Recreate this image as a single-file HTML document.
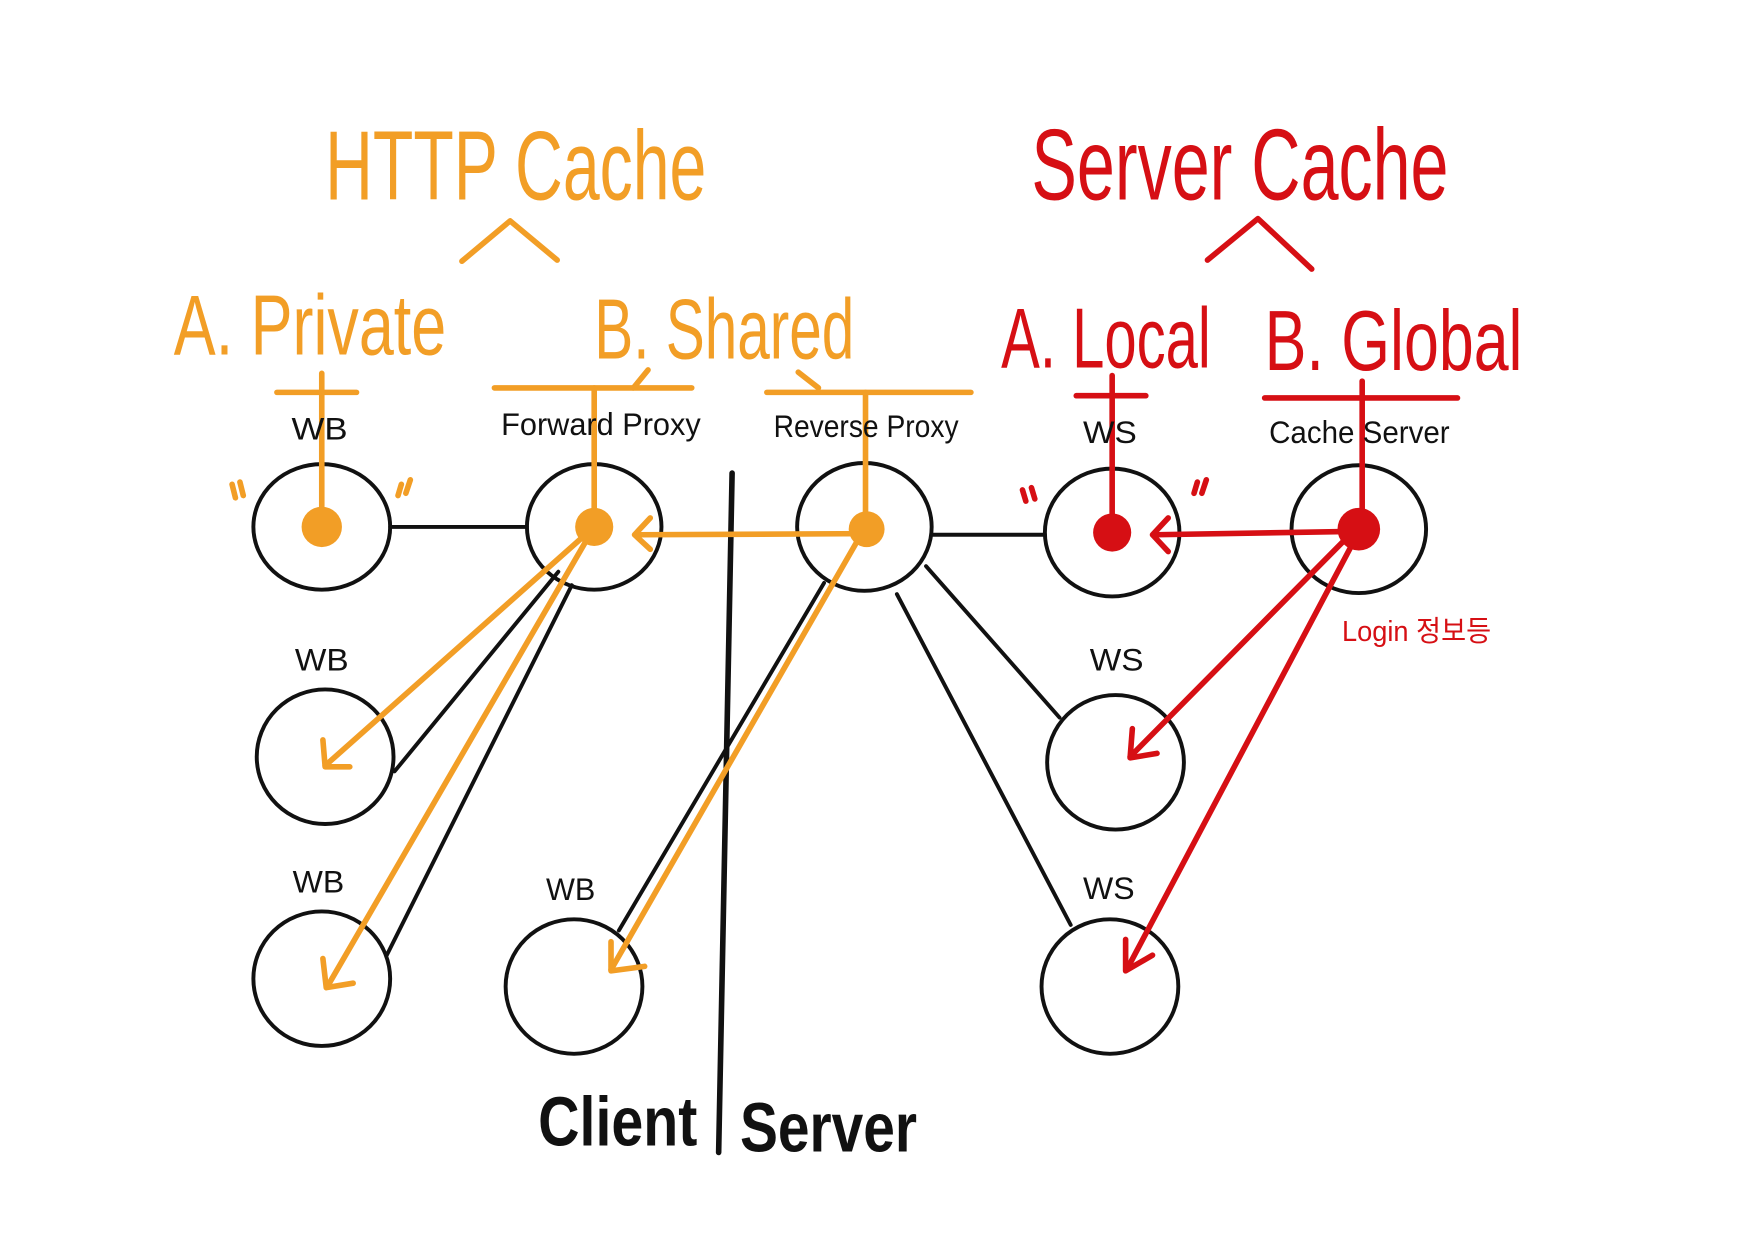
<!DOCTYPE html>
<html><head><meta charset="utf-8"><style>
html,body{margin:0;padding:0;background:#fff;width:1740px;height:1250px;overflow:hidden}
svg{display:block}
text{font-family:"Liberation Sans","Noto Sans CJK KR",sans-serif}
</style></head><body>
<svg width="1740" height="1250" viewBox="0 0 1552 1115" preserveAspectRatio="none" xmlns="http://www.w3.org/2000/svg">
<rect width="1552" height="1115" fill="#fff"/>
<g fill="none" stroke="#111" stroke-width="3.5" stroke-linecap="round">
<ellipse cx="287" cy="470" rx="61" ry="56"/>
<ellipse cx="530" cy="470" rx="60" ry="56"/>
<ellipse cx="771" cy="470" rx="60" ry="57"/>
<ellipse cx="992" cy="475" rx="60" ry="57"/>
<ellipse cx="1212" cy="472" rx="60" ry="57"/>
<ellipse cx="290" cy="675" rx="61" ry="60"/>
<ellipse cx="995" cy="680" rx="61" ry="60"/>
<ellipse cx="287" cy="873" rx="61" ry="60"/>
<ellipse cx="512" cy="880" rx="61" ry="60"/>
<ellipse cx="990" cy="880" rx="61" ry="60"/>
<line x1="348" y1="470" x2="470" y2="470"/>
<line x1="832" y1="477" x2="932" y2="477"/>
<line x1="498" y1="510" x2="352" y2="688"/>
<line x1="510" y1="522" x2="345" y2="852"/>
<line x1="735" y1="520" x2="552" y2="830"/>
<line x1="826" y1="505" x2="945" y2="640"/>
<line x1="800" y1="530" x2="955" y2="825"/>
<line x1="653" y1="422" x2="641" y2="1028" stroke-width="5"/>
</g>
<g fill="none" stroke="#f29e26" stroke-width="5" stroke-linecap="round" stroke-linejoin="round">
<polyline points="412,233 455,197 497,232"/>
<line x1="247" y1="350" x2="318" y2="350"/>
<line x1="287" y1="333" x2="287" y2="470"/>
<line x1="441" y1="346" x2="617" y2="346"/>
<polyline points="565,346 578,330"/>
<line x1="684" y1="350" x2="866" y2="350"/>
<polyline points="712,332 730,346"/>
<line x1="530" y1="346" x2="530" y2="470"/>
<line x1="772" y1="350" x2="772" y2="472"/>
<line x1="772" y1="476" x2="568" y2="477"/>
<polyline points="580,462 566,477 580,490"/>
<line x1="530" y1="470" x2="290" y2="683"/>
<polyline points="288,660 290,684 312,684"/>
<line x1="530" y1="470" x2="292" y2="880"/>
<polyline points="288,855 291,881 315,877"/>
<line x1="765" y1="482" x2="545" y2="865"/>
<polyline points="545,840 545,866 575,862"/>
<path d="M207 432 l3 12 M214 430 l3 12 M358 432 l-3 10 M366 428 l-4 12"/>
</g>
<g fill="#f29e26"><circle cx="287" cy="470" r="18"/><circle cx="530" cy="470" r="17"/><circle cx="773" cy="472" r="16"/></g>
<g fill="none" stroke="#d60f14" stroke-width="5" stroke-linecap="round" stroke-linejoin="round">
<polyline points="1077,232 1122,195 1170,240"/>
<line x1="960" y1="353" x2="1022" y2="353"/>
<line x1="992" y1="335" x2="992" y2="475"/>
<line x1="1128" y1="355" x2="1300" y2="355"/>
<line x1="1215" y1="340" x2="1215" y2="470"/>
<line x1="1205" y1="474" x2="1030" y2="477"/>
<polyline points="1042,462 1028,477 1042,492"/>
<line x1="1205" y1="476" x2="1008" y2="675"/>
<polyline points="1010,650 1008,676 1032,672"/>
<line x1="1208" y1="482" x2="1005" y2="865"/>
<polyline points="1004,838 1004,866 1028,852"/>
<path d="M912 437 l3 10 M920 435 l3 10 M1068 430 l-3 10 M1076 428 l-4 12"/>
</g>
<g fill="#d60f14"><circle cx="992" cy="475" r="17"/><circle cx="1212" cy="472" r="19"/></g>
<g fill="#f29e26">
<text x="290" y="178" font-size="88" textLength="340" lengthAdjust="spacingAndGlyphs">HTTP Cache</text>
<text x="155" y="316" font-size="76" textLength="243" lengthAdjust="spacingAndGlyphs">A. Private</text>
<text x="530" y="320" font-size="76" textLength="232" lengthAdjust="spacingAndGlyphs">B. Shared</text>
</g>
<g fill="#d60f14">
<text x="920" y="178" font-size="90" textLength="372" lengthAdjust="spacingAndGlyphs">Server Cache</text>
<text x="893" y="328" font-size="76" textLength="187" lengthAdjust="spacingAndGlyphs">A. Local</text>
<text x="1128" y="330" font-size="76" textLength="230" lengthAdjust="spacingAndGlyphs">B. Global</text>
<text x="1197" y="572" font-size="26" textLength="133" lengthAdjust="spacingAndGlyphs">Login 정보등</text>
</g>
<g fill="#111" font-size="28">
<text x="260" y="392" textLength="50" lengthAdjust="spacingAndGlyphs">WB</text>
<text x="447" y="388" textLength="178" lengthAdjust="spacingAndGlyphs">Forward Proxy</text>
<text x="690" y="390" textLength="165" lengthAdjust="spacingAndGlyphs">Reverse Proxy</text>
<text x="966" y="395" textLength="48" lengthAdjust="spacingAndGlyphs">WS</text>
<text x="1132" y="395" textLength="161" lengthAdjust="spacingAndGlyphs">Cache Server</text>
<text x="263" y="598" textLength="48" lengthAdjust="spacingAndGlyphs">WB</text>
<text x="972" y="598" textLength="48" lengthAdjust="spacingAndGlyphs">WS</text>
<text x="261" y="796" textLength="46" lengthAdjust="spacingAndGlyphs">WB</text>
<text x="487" y="803" textLength="44" lengthAdjust="spacingAndGlyphs">WB</text>
<text x="966" y="802" textLength="46" lengthAdjust="spacingAndGlyphs">WS</text>
<text x="480" y="1022" font-size="62" font-weight="bold" textLength="142" lengthAdjust="spacingAndGlyphs">Client</text>
<text x="660" y="1027" font-size="62" font-weight="bold" textLength="158" lengthAdjust="spacingAndGlyphs">Server</text>
</g>
</svg>
</body></html>
